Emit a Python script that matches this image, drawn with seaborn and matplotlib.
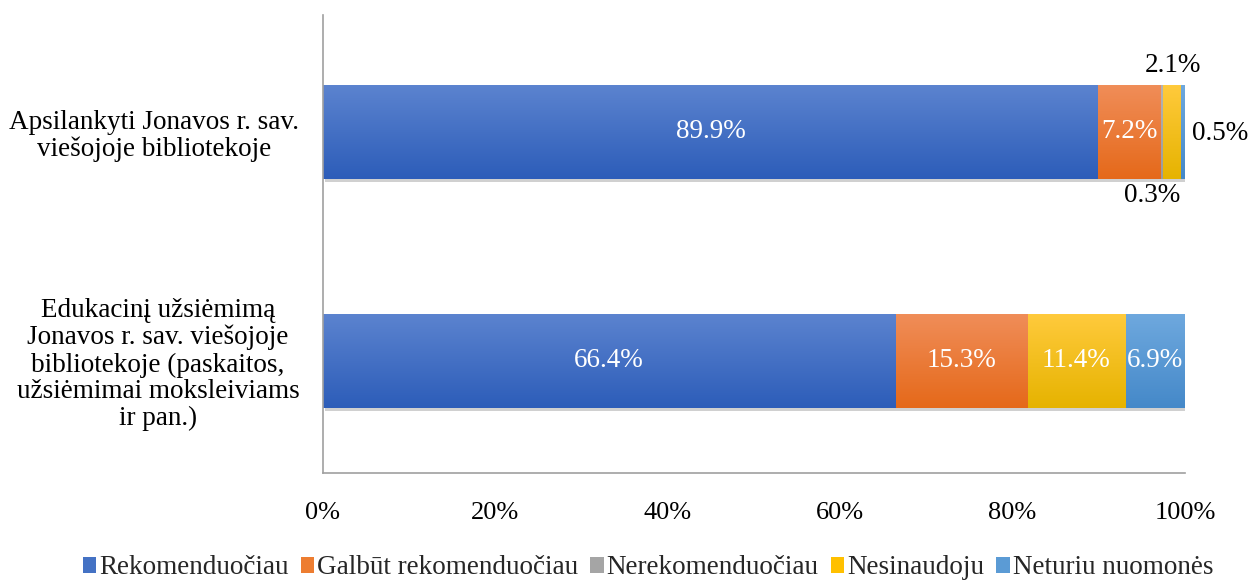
import numpy as np
import pandas as pd
import matplotlib.pyplot as plt
import matplotlib.patheffects as pe
from matplotlib.patches import Patch
from matplotlib.colors import to_rgb
import seaborn as sns

# chart data
categories = [
    "Apsilankyti Jonavos r. sav.\nviešojoje bibliotekoje",
    "Edukacinį užsiėmimą\nJonavos r. sav. viešojoje\nbibliotekoje (paskaitos,\nužsiėmimai moksleiviams\nir pan.)",
]
series_names = ["Rekomenduočiau", "Galbūt rekomenduočiau", "Nerekomenduočiau",
                "Nesinaudoju", "Neturiu nuomonės"]
rekomenduociau = [89.9, 66.4]
galbut = [7.2, 15.3]
nerekomenduociau = [0.3, 0.0]
nesinaudoju = [2.1, 11.4]
neturiu = [0.5, 6.9]
x_ticks = [0, 20, 40, 60, 80, 100]

# gradient colours (top, bottom) per series
top_colors = ["#5b83cf", "#f08d58", "#b4b4b4", "#ffca3c", "#6ea8de"]
bot_colors = ["#2d5db9", "#e5691a", "#9a9a9a", "#e6b300", "#4589c9"]
mid_colors = ["#4472c4", "#ed7d31", "#a5a5a5", "#ffc000", "#5b9bd5"]

sns.set_theme(style="white")
plt.rcParams["font.family"] = ["Liberation Serif", "DejaVu Serif"]

values = np.array([rekomenduociau, galbut, nerekomenduociau, nesinaudoju, neturiu])
cum = values.cumsum(axis=0)

fig = plt.figure(figsize=(12.53, 5.81), dpi=100)
ax = fig.add_axes([323 / 1253, 1 - 473 / 581, 862 / 1253, 458 / 581])

bar_w = 0.41
# stacked bars: draw cumulative totals, biggest first
for i in reversed(range(len(series_names))):
    n_before = len(ax.patches)
    df = pd.DataFrame({"cat": categories, "val": cum[i]})
    sns.barplot(data=df, x="val", y="cat", orient="h", color=mid_colors[i],
                saturation=1, width=bar_w, ax=ax, linewidth=0,
                zorder=2 + (4 - i) * 0.1)
    new = ax.patches[n_before:]
    for p in new:
        x0, y0, w, h = p.get_x(), p.get_y(), p.get_width(), p.get_height()
        if i == len(series_names) - 1:
            p.set_path_effects([pe.SimplePatchShadow(offset=(1.5, -2.5), alpha=0.3,
                                                    shadow_rgbFace="#666666"),
                                pe.Normal()])
        if w <= 0:
            continue
        c0 = np.array(to_rgb(top_colors[i]))
        c1 = np.array(to_rgb(bot_colors[i]))
        t = np.linspace(0, 1, 64)[:, None]
        grad = (c0 * (1 - t) + c1 * t)[:, None, :]
        ax.imshow(grad, extent=(x0, x0 + w, y0, y0 + h), origin="lower",
                  aspect="auto", zorder=2.05 + (4 - i) * 0.1, interpolation="bilinear")

ax.set_xlim(0, 100)
ax.set_ylim(1.49, -0.51)
ax.set_xticks(x_ticks)
ax.set_xticklabels([f"{v}%" for v in x_ticks])
ax.set_xlabel("")
ax.set_ylabel("")
ax.set_yticks([0, 1])
ax.set_yticklabels(categories, multialignment="center", linespacing=1.1)
ax.tick_params(axis="x", length=0, pad=21, labelsize=19, colors="black")
ax.tick_params(axis="y", length=0, pad=17, labelsize=19.5, colors="black")

for s in ["top", "right"]:
    ax.spines[s].set_visible(False)
for s in ["left", "bottom"]:
    ax.spines[s].set_color("#a0a0a0")
    ax.spines[s].set_linewidth(1.2)

# data labels
for i in range(len(series_names)):
    for j in range(len(categories)):
        v = values[i, j]
        if v <= 0:
            continue
        xc = cum[i, j] - v / 2
        if v >= 5:
            ax.text(xc, j, f"{v:.1f}%", ha="center", va="center", color="white",
                    fontsize=19.5, zorder=5)

# small labels outside the top bar (offsets in pixels)
small = {2: (-9, -64), 3: (1, 66), 4: (37, -2)}
for i, (dx, dy) in small.items():
    v = values[i, 0]
    xc = cum[i, 0] - v / 2
    ax.annotate(f"{v:.1f}%", xy=(xc, 0), xytext=(dx / 1.389, dy / 1.389),
                textcoords="offset points", ha="center", va="center",
                fontsize=19.5, color="black", zorder=5)

handles = [Patch(facecolor=c, edgecolor="none") for c in mid_colors]
fig.legend(handles, series_names, loc="center", bbox_to_anchor=(648 / 1253, 1 - 568 / 581),
           ncol=5, frameon=False, fontsize=19.5, handlelength=0.5, handleheight=0.5,
           handletextpad=0.1, columnspacing=0.45)

fig.savefig("out.png", dpi=100)
